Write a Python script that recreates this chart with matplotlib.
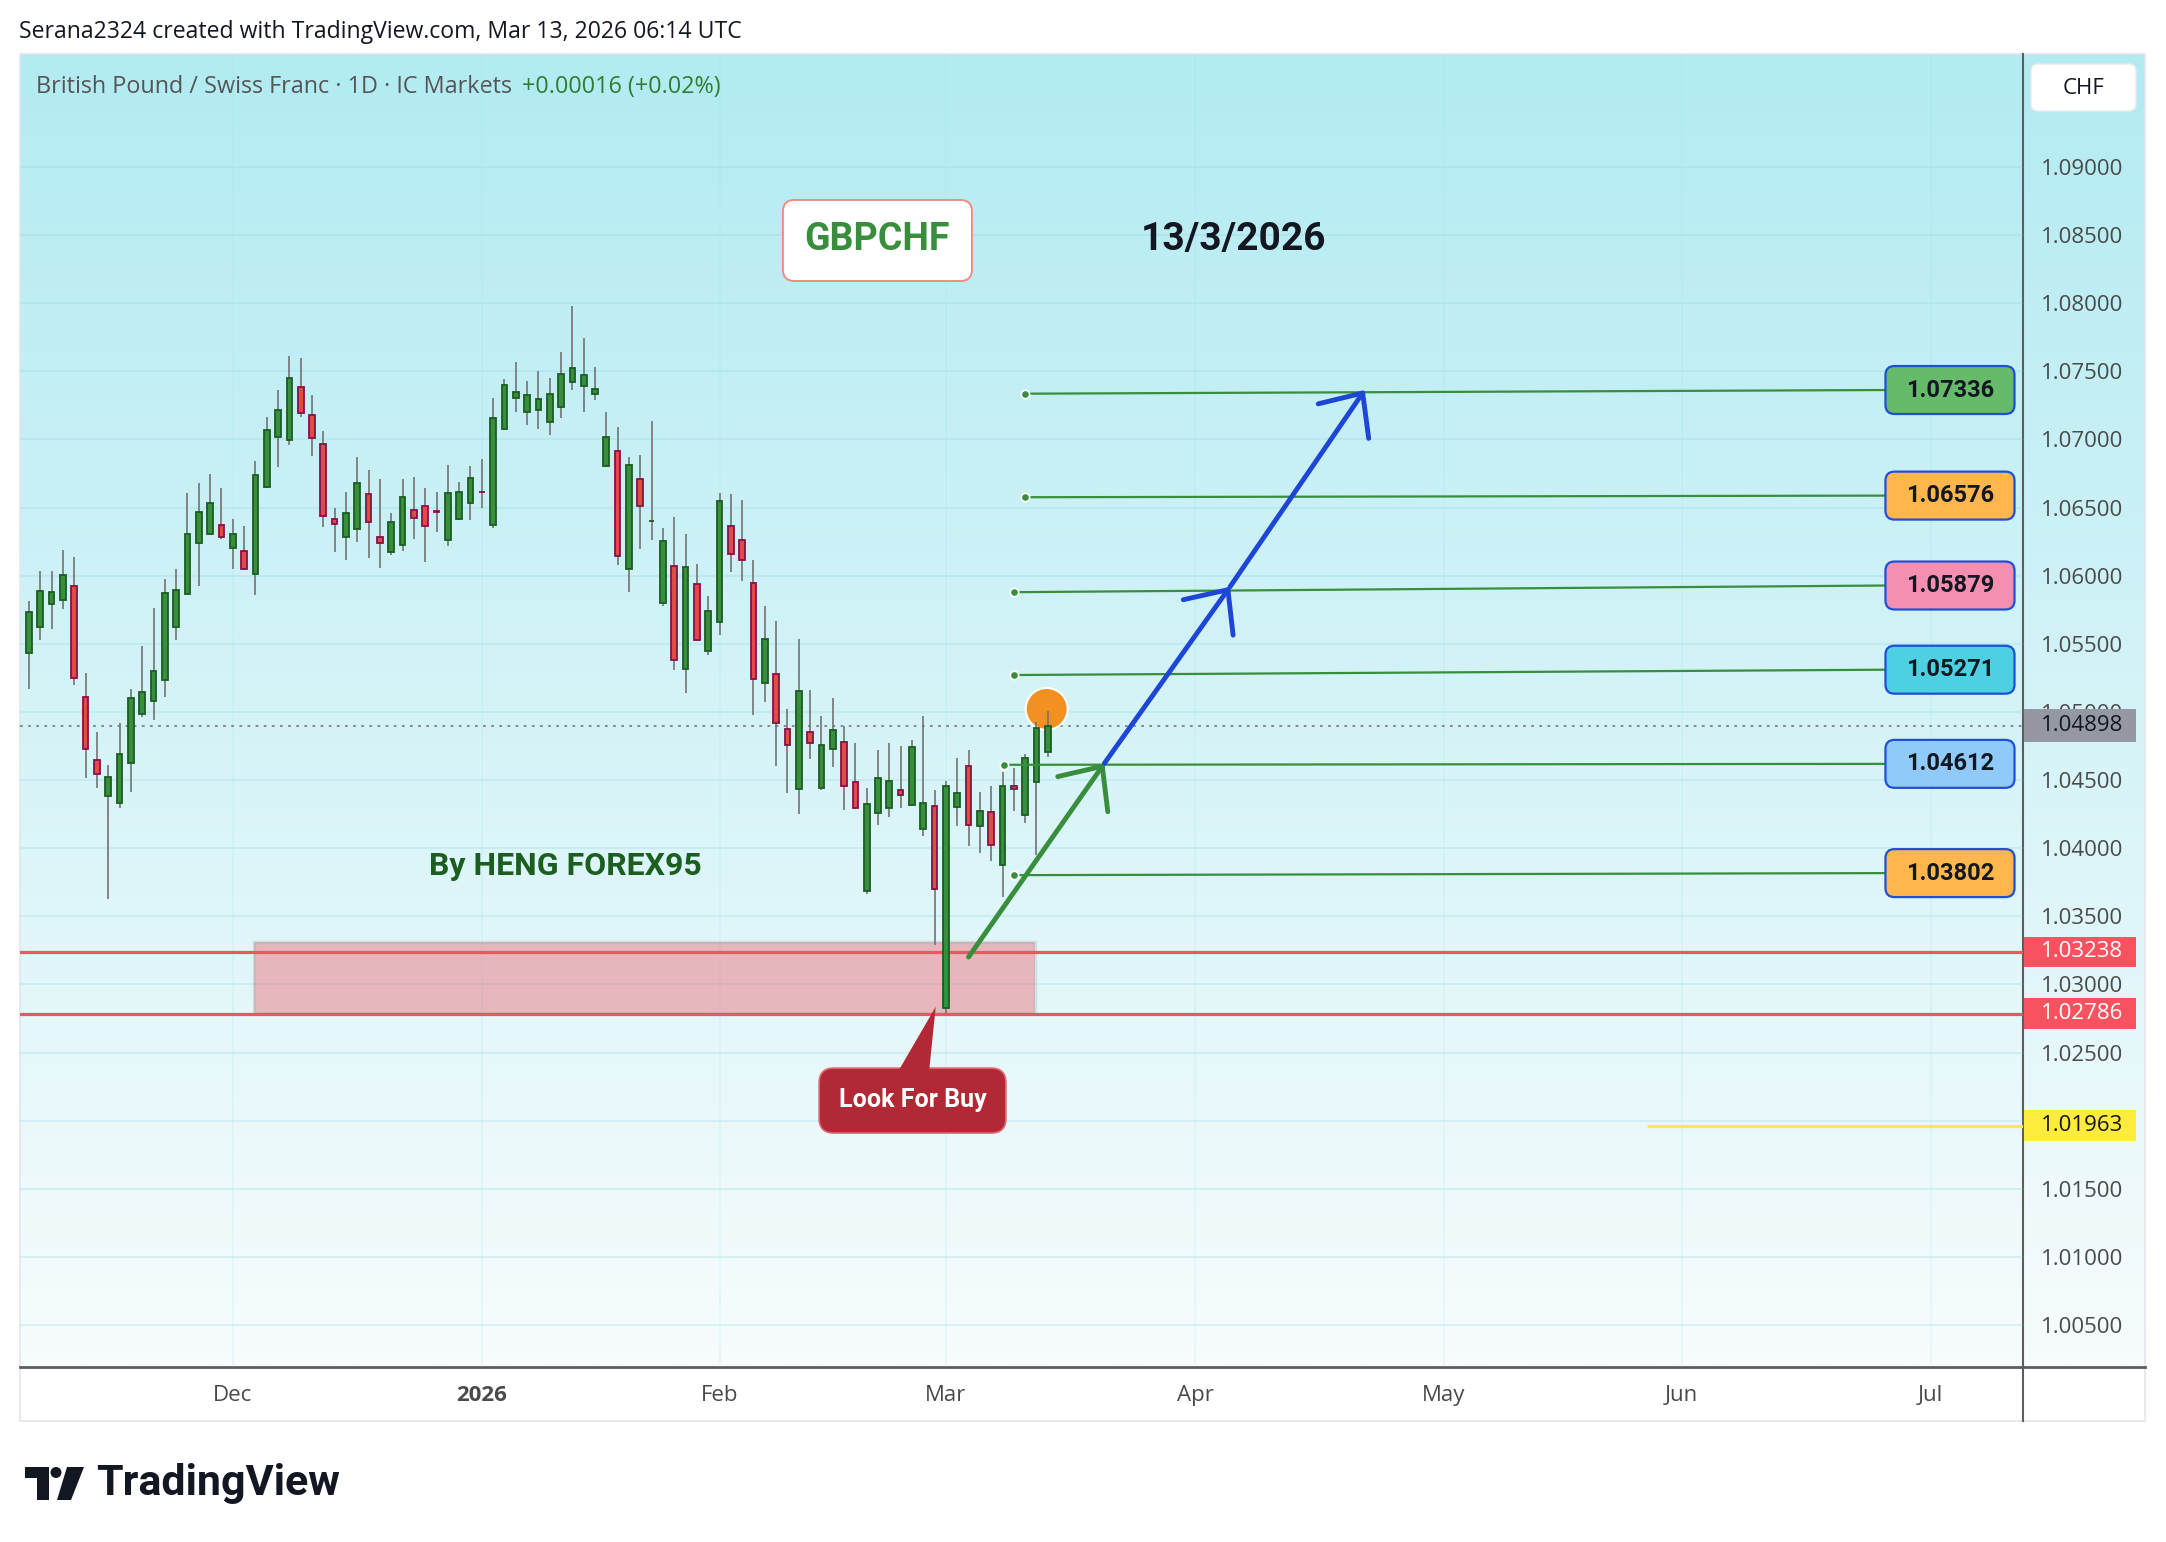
import numpy as np
import pandas as pd
import matplotlib
matplotlib.use('Agg')
import matplotlib.pyplot as plt
from matplotlib.patches import Rectangle, FancyBboxPatch, Polygon, Ellipse, Circle, FancyArrowPatch, ArrowStyle
import matplotlib.transforms as mtransforms

plt.rcParams['font.family'] = ['Open Sans', 'DejaVu Sans']

# ---------------- data ----------------
first_date = '2025-11-05'
axis_end_date = '2026-07-31'
market_holidays = ['2025-12-25', '2026-01-01']

opens = [1.05429, 1.05627, 1.05789, 1.05825, 1.05921, 1.05108, 1.04646, 1.04385, 1.04334, 1.04628,
         1.04982, 1.05078, 1.05231, 1.05621, 1.05867, 1.06239, 1.06305, 1.06374, 1.06200, 1.06179,
         1.06011, 1.06650, 1.07016, 1.06995, 1.07388, 1.07181, 1.06968, 1.06416, 1.06281, 1.06344,
         1.06602, 1.06284, 1.06173, 1.06224, 1.06482, 1.06512, 1.06476, 1.06260, 1.06413, 1.06533,
         1.06617, 1.06371, 1.07076, 1.07304, 1.07202, 1.07217, 1.07127, 1.07238, 1.07421, 1.07394,
         1.07334, 1.06803, 1.06914, 1.06047, 1.06710, 1.06398, 1.05798, 1.06074, 1.05318, 1.05942,
         1.05444, 1.05657, 1.06362, 1.06261, 1.05944, 1.05211, 1.05282, 1.04873, 1.04432, 1.04852,
         1.04439, 1.04731, 1.04777, 1.04489, 1.03688, 1.04257, 1.04293, 1.04425, 1.04314, 1.04143,
         1.04307, 1.02830, 1.04300, 1.04603, 1.04161, 1.04265, 1.03873, 1.04460, 1.04240, 1.04489,
         1.04709]
highs = [1.05816, 1.06032, 1.06038, 1.06191, 1.06134, 1.05285, 1.04856, 1.04613, 1.04922, 1.05165,
         1.05486, 1.05765, 1.05978, 1.06047, 1.06605, 1.06677, 1.06743, 1.06647, 1.06413, 1.06368,
         1.06845, 1.07163, 1.07361, 1.07613, 1.07598, 1.07328, 1.07064, 1.06494, 1.06611, 1.06869,
         1.06779, 1.06707, 1.06458, 1.06713, 1.06728, 1.06647, 1.06611, 1.06809, 1.06689, 1.06803,
         1.06860, 1.07301, 1.07445, 1.07571, 1.07430, 1.07505, 1.07451, 1.07643, 1.07982, 1.07742,
         1.07532, 1.07202, 1.07091, 1.06869, 1.06884, 1.07139, 1.06347, 1.06431, 1.06305, 1.06086,
         1.05849, 1.06608, 1.06601, 1.06556, 1.06115, 1.05777, 1.05670, 1.05023, 1.05535, 1.05161,
         1.04973, 1.05104, 1.04898, 1.04770, 1.04442, 1.04724, 1.04770, 1.04749, 1.04795, 1.04973,
         1.04428, 1.04496, 1.04663, 1.04717, 1.04414, 1.04460, 1.04556, 1.04592, 1.04692, 1.04923,
         1.05005]
lows = [1.05165, 1.05525, 1.05609, 1.05756, 1.05195, 1.04514, 1.04445, 1.03626, 1.04295, 1.04412,
        1.04964, 1.04940, 1.05111, 1.05528, 1.05861, 1.05927, 1.06300, 1.06269, 1.06050, 1.06045,
        1.05861, 1.06645, 1.06800, 1.06959, 1.07166, 1.06878, 1.06356, 1.06176, 1.06116, 1.06251,
        1.06131, 1.06059, 1.06155, 1.06185, 1.06272, 1.06104, 1.06318, 1.06221, 1.06410, 1.06410,
        1.06500, 1.06353, 1.07070, 1.07199, 1.07103, 1.07079, 1.07034, 1.07160, 1.07361, 1.07199,
        1.07292, 1.06800, 1.06080, 1.05882, 1.06197, 1.06263, 1.05780, 1.05309, 1.05141, 1.05520,
        1.05420, 1.05567, 1.06027, 1.05959, 1.04980, 1.05072, 1.04603, 1.04403, 1.04250, 1.04652,
        1.04425, 1.04595, 1.04282, 1.04290, 1.03667, 1.04172, 1.04232, 1.04297, 1.04307, 1.04090,
        1.03293, 1.02786, 1.04165, 1.04019, 1.03962, 1.03909, 1.03638, 1.04272, 1.04186, 1.03951,
        1.04670]
closes = [1.05735, 1.05888, 1.05882, 1.06005, 1.05249, 1.04730, 1.04547, 1.04520, 1.04691, 1.05102,
          1.05147, 1.05300, 1.05873, 1.05894, 1.06308, 1.06470, 1.06536, 1.06281, 1.06308, 1.06047,
          1.06740, 1.07070, 1.07217, 1.07454, 1.07196, 1.07013, 1.06437, 1.06377, 1.06461, 1.06683,
          1.06392, 1.06242, 1.06395, 1.06575, 1.06422, 1.06362, 1.06470, 1.06608, 1.06617, 1.06719,
          1.06611, 1.07160, 1.07397, 1.07346, 1.07328, 1.07298, 1.07337, 1.07484, 1.07526, 1.07475,
          1.07373, 1.07016, 1.06143, 1.06809, 1.06512, 1.06404, 1.06257, 1.05378, 1.06065, 1.05525,
          1.05744, 1.06551, 1.06160, 1.06112, 1.05240, 1.05532, 1.04919, 1.04759, 1.05151, 1.04770,
          1.04759, 1.04866, 1.04457, 1.04293, 1.04321, 1.04514, 1.04496, 1.04389, 1.04741, 1.04329,
          1.03699, 1.04460, 1.04407, 1.04168, 1.04272, 1.04026, 1.04460, 1.04432, 1.04660, 1.04882,
          1.04898]

price_ticks = [1.005, 1.010, 1.015, 1.020, 1.025, 1.030, 1.035, 1.040, 1.045,
               1.050, 1.055, 1.060, 1.065, 1.070, 1.075, 1.080, 1.085, 1.090]
target_levels = [1.07336, 1.06576, 1.05879, 1.05271, 1.04612, 1.03802]
target_colors = ['#66bb6a', '#ffb74d', '#f48fb1', '#4dd0e1', '#90caf9', '#ffb74d']
zone_levels = [1.03238, 1.02786]
yellow_level = 1.01963
last_price = 1.04898

# ---------------- figure ----------------
W, H = 2166, 1542
fig = plt.figure(figsize=(W / 100, H / 100), dpi=100)

# background / frame axes in pixel coordinates
bg = fig.add_axes([0, 0, 1, 1], zorder=0)
bg.set_xlim(0, W)
bg.set_ylim(H, 0)
bg.axis('off')
top_c = np.array([178, 235, 242]) / 255
bot_c = np.array([247, 252, 253]) / 255
t = np.linspace(0, 1, 400)[:, None]
grad = (top_c[None, :] * (1 - t) + bot_c[None, :] * t)[:, None, :]
bg.imshow(grad, extent=(20, 2145, 1367, 54), aspect='auto', interpolation='bilinear', zorder=0)
bg.add_patch(Rectangle((20, 1367), 2125, 54, fc='white', ec='none', zorder=1))
bg.add_patch(Rectangle((20, 54), 2125, 1367, fc='none', ec='#e3e6ea', lw=1.2, zorder=2))
bg.plot([20, 2145], [1367, 1367], color='#5d5d5d', lw=2.0, zorder=3)
bg.plot([2023, 2023], [54, 1421], color='#5d5d5d', lw=1.5, zorder=3)
# CHF box
bg.add_patch(FancyBboxPatch((2031, 64), 105, 47, boxstyle='round,pad=0,rounding_size=7',
                            fc='white', ec='#e8eaee', lw=1, zorder=3))
bg.text(2083, 88, 'CHF', ha='center', va='center', fontsize=16, color='#131722', zorder=4)
# header
bg.text(19, 32, 'Serana2324 created with TradingView.com, Mar 13, 2026 06:14 UTC',
        ha='left', va='center', fontsize=16.6, color='#131722')
bg.text(36, 87, 'British Pound / Swiss Franc · 1D · IC Markets', ha='left', va='center',
        fontsize=16.8, color='#555555', zorder=4)
bg.text(522, 87, '+0.00016 (+0.02%)', ha='left', va='center', fontsize=16.8,
        color='#2e7d32', zorder=4)
# TradingView logo
bg.add_patch(Polygon([(25, 1467), (49, 1467), (49, 1500), (37, 1500), (37, 1478), (25, 1478)],
                     closed=True, fc='#131722', ec='none'))
bg.add_patch(Circle((56, 1472.5), 5.5, fc='#131722', ec='none'))
bg.add_patch(Polygon([(67, 1467), (84, 1467), (71, 1500), (57, 1500)], closed=True,
                     fc='#131722', ec='none'))
bg.text(96, 1484, 'TradingView', ha='left', va='center', fontsize=31, fontweight='bold',
        family=['Roboto', 'DejaVu Sans'], color='#131722')

# main chart axes
ax = fig.add_axes([20 / W, 1 - 1367 / H, (2023 - 20) / W, (1367 - 54) / H], zorder=1)
ax.patch.set_visible(False)
for s in ax.spines.values():
    s.set_visible(False)

n = len(opens)
dates = pd.bdate_range(first_date, axis_end_date).drop(pd.to_datetime(market_holidays))
x_min, x_max = -0.795, 176.15
ax.set_xlim(x_min, x_max)
ax.set_ylim(1.001918, 1.098294)

# month ticks
months = dates.to_period('M')
tick_pos, tick_lab = [], []
for i in range(1, len(dates)):
    if months[i] != months[i - 1] and i <= x_max:
        tick_pos.append(i)
        tick_lab.append(str(dates[i].year) if dates[i].month == 1 else dates[i].strftime('%b'))
ax.set_xticks(tick_pos)
ax.set_xticklabels(tick_lab)
for lab in ax.get_xticklabels():
    if lab.get_text().isdigit():
        lab.set_fontweight('bold')
ax.tick_params(axis='x', length=0, pad=13, labelsize=16, labelcolor='#4a4a4a')

ax.yaxis.tick_right()
ax.set_yticks(price_ticks)
ax.set_yticklabels([f'{p:.5f}' for p in price_ticks])
ax.tick_params(axis='y', length=0, pad=13, labelsize=16, labelcolor='#4a4a4a')

# grid
ax.hlines(price_ticks, x_min, x_max, color=(0.55, 0.83, 0.89, 0.30), lw=1.2, zorder=0.5)
ax.vlines(tick_pos, 1.001918, 1.098294, color=(0.6, 0.88, 0.92, 0.18), lw=1.2, zorder=0.5)

# buy zone
ax.add_patch(Rectangle((19.9, 1.02790), 88.9 - 19.9, 1.03310 - 1.02790, fc='#f23645', alpha=0.33,
                       ec='none', zorder=1.4))
ax.add_patch(Rectangle((19.9, 1.02790), 88.9 - 19.9, 1.03310 - 1.02790, fc='none',
                       ec=(0.6, 0.65, 0.67, 0.25), lw=2.5, zorder=1.45))
for lv in zone_levels:
    ax.axhline(lv, color='#f7525f', lw=2.3, zorder=2)
ax.hlines(yellow_level, 142.9, x_max, color='#ffeb3b', lw=2.3, zorder=2)
ax.axhline(last_price, color='#7d8087', lw=1.3, ls=(0, (1.5, 3)), zorder=2)

# orange marker
ax.add_patch(Ellipse((89.9, 1.05022), 3.71, 0.00308, fc='#f39022', ec='white', lw=1.5, zorder=2.8))

# candles
x = np.arange(n)
o, h, l, c = (np.array(v) for v in (opens, highs, lows, closes))
up = c >= o
ax.vlines(x, l, h, color='#737373', lw=1.2, zorder=3)
bb = np.minimum(o, c)
bh = np.maximum(np.abs(c - o), 0.00004)
ax.bar(x[up], bh[up], bottom=bb[up], width=0.5, color='#388e3c', edgecolor='#1b5e20',
       linewidth=1.3, zorder=4)
ax.bar(x[~up], bh[~up], bottom=bb[~up], width=0.5, color='#dc4e41', edgecolor='#8a0f4c',
       linewidth=1.3, zorder=4)

# target lines and labels
aspect = 11.32 / 13623.5
start_idx = [88.0, 88.0, 87.0, 87.0, 86.1, 87.0]
end_rise = [0.00027, 0.00012, 0.00049, 0.00039, 0.00007, 0.00015]
end_idx = 164.0
for lv, col, xs, dr in zip(target_levels, target_colors, start_idx, end_rise):
    ax.plot([xs, end_idx], [lv, lv + dr], color='#388e3c', lw=1.6, zorder=5, solid_capstyle='butt')
    ax.plot([xs], [lv], 'o', ms=6, mfc='#388e3c', mec='white', mew=1.2, zorder=6)
    yb = lv + dr
    ax.add_patch(FancyBboxPatch((end_idx, yb - 0.00176), 11.4, 0.00352,
                                boxstyle='round,pad=0,rounding_size=0.8', mutation_aspect=aspect,
                                fc=col, ec='#1e4fd8', lw=1.6, zorder=8, clip_on=False))
    ax.text(end_idx + 5.7, yb, f'{lv:.5f}', ha='center', va='center', fontsize=17,
            fontweight='bold', family=['Roboto', 'DejaVu Sans'], color='#131722', zorder=9)

# arrows
def arrow(p0, p1, color, lw=3.5, z=7):
    st = ArrowStyle('->', head_length=24.5, head_width=22)
    a = FancyArrowPatch(p0, p1, arrowstyle=st, mutation_scale=1, color=color, lw=lw,
                        shrinkA=0, shrinkB=0, capstyle='round', joinstyle='round', zorder=z)
    ax.add_patch(a)

green_start = (83.0, 1.03201)
green_tip = (95.0, 1.04623)
blue_mid = (106.1, 1.05919)
blue_tip = (118.0, 1.07363)
arrow(green_start, green_tip, '#388e3c')
arrow(green_tip, blue_mid, '#1e46d6')
arrow(blue_mid, blue_tip, '#1e46d6')

# axis price labels
blend = mtransforms.blended_transform_factory(ax.transAxes, ax.transData)
def axis_label(p, fc, tc, hh=0.00113):
    ax.add_patch(Rectangle((1.0005, p - hh), 0.0559, 2 * hh, transform=blend, fc=fc, ec='none',
                           clip_on=False, zorder=6))
    ax.text(1.009, p, f'{p:.5f}', transform=blend, ha='left', va='center', fontsize=16,
            color=tc, clip_on=False, zorder=7)

axis_label(last_price, '#9598a1', '#131722', hh=0.00121)
axis_label(zone_levels[0], '#f7525f', 'white')
axis_label(zone_levels[1], '#f7525f', 'white')
axis_label(yellow_level, '#ffeb3b', '#131722')

# text annotations
ax.add_patch(FancyBboxPatch((66.6, 1.08163), 16.7, 0.00595, boxstyle='round,pad=0,rounding_size=1.0',
                            mutation_aspect=aspect, fc='white', ec='#f28b82', lw=1.4, zorder=8))
ax.text(74.95, 1.08466, 'GBPCHF', ha='center', va='center', fontsize=27, fontweight='bold',
        family=['Roboto', 'DejaVu Sans'], color='#388e3c', zorder=9)
ax.text(106.4, 1.08468, '13/3/2026', ha='center', va='center', fontsize=28, fontweight='bold',
        family=['Roboto', 'DejaVu Sans'], color='#131722', zorder=9)
ax.text(47.4, 1.03869, 'By HENG FOREX95', ha='center', va='center', fontsize=23, fontweight='bold',
        family=['Roboto', 'DejaVu Sans'], color='#1b5e20', zorder=9)

# Look For Buy callout
ax.add_patch(FancyBboxPatch((69.8, 1.01909), 16.5, 0.00477, boxstyle='round,pad=0,rounding_size=1.3',
                            mutation_aspect=aspect, fc='#b22834', ec='#e06a72', lw=1.2, zorder=10))
ax.add_patch(Polygon([(76.7, 1.02350), (79.5, 1.02350), (80.1, 1.02836)], closed=True,
                     fc='#b22834', ec='none', zorder=10.5))
ax.text(78.05, 1.02148, 'Look For Buy', ha='center', va='center', fontsize=18, fontweight='bold',
        family=['Roboto', 'DejaVu Sans'], color='white', zorder=11)

fig.savefig('out.png', dpi=100)
